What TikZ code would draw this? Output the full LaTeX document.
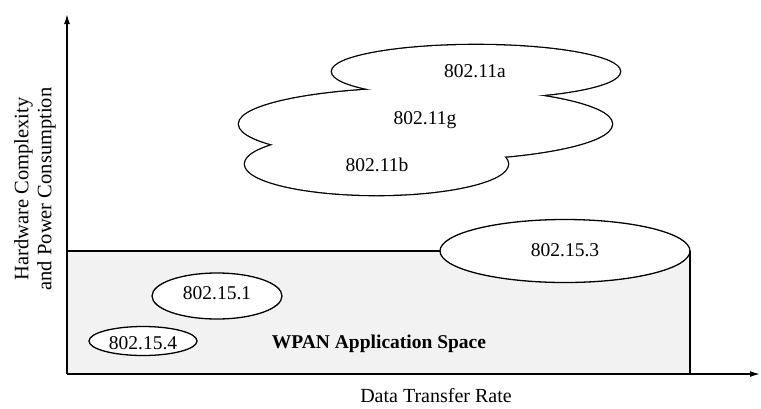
\documentclass[tikz,border=0pt]{standalone}
\usepackage{fontspec}
\setmainfont{Liberation Serif}
\usetikzlibrary{shapes.geometric,arrows.meta}
\begin{document}
\begin{tikzpicture}[x=1pt,y=-1pt,
  ell/.style={ellipse, inner sep=0pt, outer sep=0pt},
  rim/.style={ell, draw=black, line width=2.6pt},
  face/.style={ell, fill=white},
  solo/.style={ell, draw=black, fill=white, line width=1.3pt},
  num/.style={font=\fontsize{19.5}{22}\selectfont, text height=13pt, text depth=0pt, inner sep=0pt},
  axis/.style={line width=1.5pt, -{Latex[length=10pt,width=6pt]}},
  edge/.style={line width=1.3pt},
]
\useasboundingbox (0,0) rectangle (761,408);

% axes origin and ends
\coordinate (O) at (67,374);
\coordinate (Ytip) at (67,14);
\coordinate (Xtip) at (760,374);

% WPAN application space
\fill[black!5] (O) rectangle (690,251);
\node[solo, minimum width=250pt, minimum height=63pt] (s3) at (565,251) {};
\node[num] (t3) at (565,250) {802.15.3};
\coordinate (RT) at (67,251);
\draw[edge] (RT) -- (s3.west);
\draw[edge] (s3.east) -- (s3.east |- O);

\node[solo, minimum width=130pt, minimum height=46pt] (s1) at (217,296) {};
\node[num] (t1) at (217,293) {802.15.1};
\node[solo, minimum width=108pt, minimum height=29pt] (s4) at (143,341) {};
\node[num] (t4) at (143,343) {802.15.4};

\node[font=\fontsize{19.5}{22}\selectfont\bfseries, inner sep=0pt] (wpan) at (379,343.5) {WPAN Application Space};

% WLAN ellipses (union outline)
\node[rim, minimum width=288pt, minimum height=53pt] (ea) at (476,71.5) {};
\node[rim, minimum width=373pt, minimum height=72pt] (eg) at (425.5,124) {};
\node[rim, minimum width=263pt, minimum height=62pt] (eb) at (376.5,164) {};
\node[face, minimum width=288pt, minimum height=53pt] (fa) at (ea) {};
\node[face, minimum width=373pt, minimum height=72pt] (fg) at (eg) {};
\node[face, minimum width=263pt, minimum height=62pt] (fb) at (eb) {};
\node[num] (ta) at (475,71) {802.11a};
\node[num] (tg) at (425,117.5) {802.11g};
\node[num] (tb) at (377,165) {802.11b};

% axes
\draw[axis] (O) -- (Ytip);
\draw[axis] (O) -- (Xtip);

% axis labels
\node[font=\fontsize{20.5}{23}\selectfont, rotate=90, align=center, inner sep=0pt] (ylab) at (35,189) {Hardware Complexity\\and Power Consumption};
\node[font=\fontsize{20}{23}\selectfont, inner sep=0pt] (xlab) at (436,396) {Data Transfer Rate};
\end{tikzpicture}
\end{document}
